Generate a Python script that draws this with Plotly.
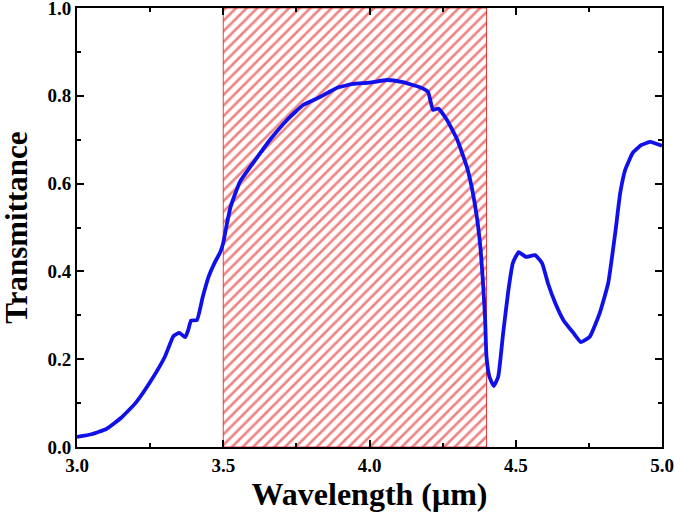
import plotly.graph_objects as go

wavelength = [3.00, 3.05, 3.10, 3.15, 3.20, 3.25, 3.30, 3.33, 3.35, 3.37, 3.38, 3.39, 3.41,
              3.43, 3.45, 3.47, 3.49, 3.50, 3.51, 3.525, 3.557, 3.60, 3.66, 3.718, 3.773,
              3.83, 3.888, 3.944, 4.00, 4.06, 4.114, 4.17, 4.20, 4.217, 4.235, 4.265, 4.30,
              4.333, 4.35, 4.367, 4.38, 4.388, 4.395, 4.40, 4.41, 4.425, 4.44, 4.457, 4.475,
              4.49, 4.51, 4.535, 4.566, 4.59, 4.61, 4.635, 4.663, 4.697, 4.723, 4.753, 4.787,
              4.816, 4.84, 4.857, 4.874, 4.90, 4.93, 4.96, 5.00]
transmittance = [0.023, 0.029, 0.041, 0.066, 0.100, 0.148, 0.205, 0.253, 0.260, 0.250, 0.266,
                 0.288, 0.289, 0.342, 0.388, 0.419, 0.444, 0.465, 0.500, 0.547, 0.604, 0.645,
                 0.700, 0.745, 0.779, 0.797, 0.818, 0.827, 0.830, 0.836, 0.831, 0.820, 0.809,
                 0.768, 0.771, 0.745, 0.700, 0.638, 0.590, 0.524, 0.449, 0.374, 0.296, 0.205,
                 0.160, 0.139, 0.160, 0.260, 0.358, 0.419, 0.444, 0.433, 0.437, 0.419, 0.373,
                 0.328, 0.289, 0.260, 0.239, 0.251, 0.305, 0.373, 0.487, 0.578, 0.631, 0.670,
                 0.688, 0.695, 0.686]

band_x = [3.5, 4.4]
band_y = [0.0, 1.0]

fig = go.Figure()
fig.add_trace(go.Scatter(
    x=[band_x[0], band_x[1], band_x[1], band_x[0], band_x[0]],
    y=[band_y[0], band_y[0], band_y[1], band_y[1], band_y[0]],
    mode="lines", fill="toself",
    line=dict(color="rgba(230,30,30,0.85)", width=1),
    fillcolor="white",
    fillpattern=dict(shape="/", fgcolor="#e00a0a", bgcolor="white", size=7.5, solidity=0.36),
    showlegend=False, hoverinfo="skip"))
fig.add_trace(go.Scatter(
    x=wavelength, y=transmittance, mode="lines",
    line=dict(color="#1010e8", width=3.8, shape="spline", smoothing=0.4),
    showlegend=False))

font_family = "Liberation Serif"
fig.update_layout(
    width=675, height=519,
    margin=dict(l=77, r=13, t=8, b=72),
    plot_bgcolor="white", paper_bgcolor="white",
    font=dict(family=font_family, color="black"),
    annotations=[dict(text="<b>Transmittance</b>", xref="paper", yref="paper",
                      x=-0.104, y=0.5, xanchor="center", yanchor="middle",
                      textangle=-90, showarrow=False,
                      font=dict(family=font_family, size=31, color="black"))],
)
fig.update_xaxes(
    range=[3.0, 5.0], dtick=0.5, tick0=3.0, tickformat=".1f", automargin=False,
    showline=True, linecolor="black", linewidth=2, mirror="allticks",
    ticks="inside", ticklen=7, tickwidth=1.5, tickcolor="black",
    minor=dict(ticks="inside", dtick=0.25, ticklen=4, tickwidth=1.5, tickcolor="black"),
    showgrid=False, zeroline=False, ticklabeloverflow="allow",
    tickfont=dict(family=font_family, size=19, color="black", weight="bold"),
    title=dict(text="<b>Wavelength (μm)</b>", font=dict(family=font_family, size=32), standoff=6),
)
fig.update_yaxes(
    range=[0.0, 1.0], dtick=0.2, tick0=0.0, tickformat=".1f", automargin=False,
    showline=True, linecolor="black", linewidth=2, mirror="allticks",
    ticks="inside", ticklen=7, tickwidth=1.5, tickcolor="black",
    minor=dict(ticks="inside", dtick=0.1, ticklen=4, tickwidth=1.5, tickcolor="black"),
    showgrid=False, zeroline=False, ticklabeloverflow="allow",
    tickfont=dict(family=font_family, size=19, color="black", weight="bold"),
)
fig.write_html("out.html", config={"displayModeBar": False},
               post_script="document.body.style.margin='0';document.body.style.overflow='hidden';")
